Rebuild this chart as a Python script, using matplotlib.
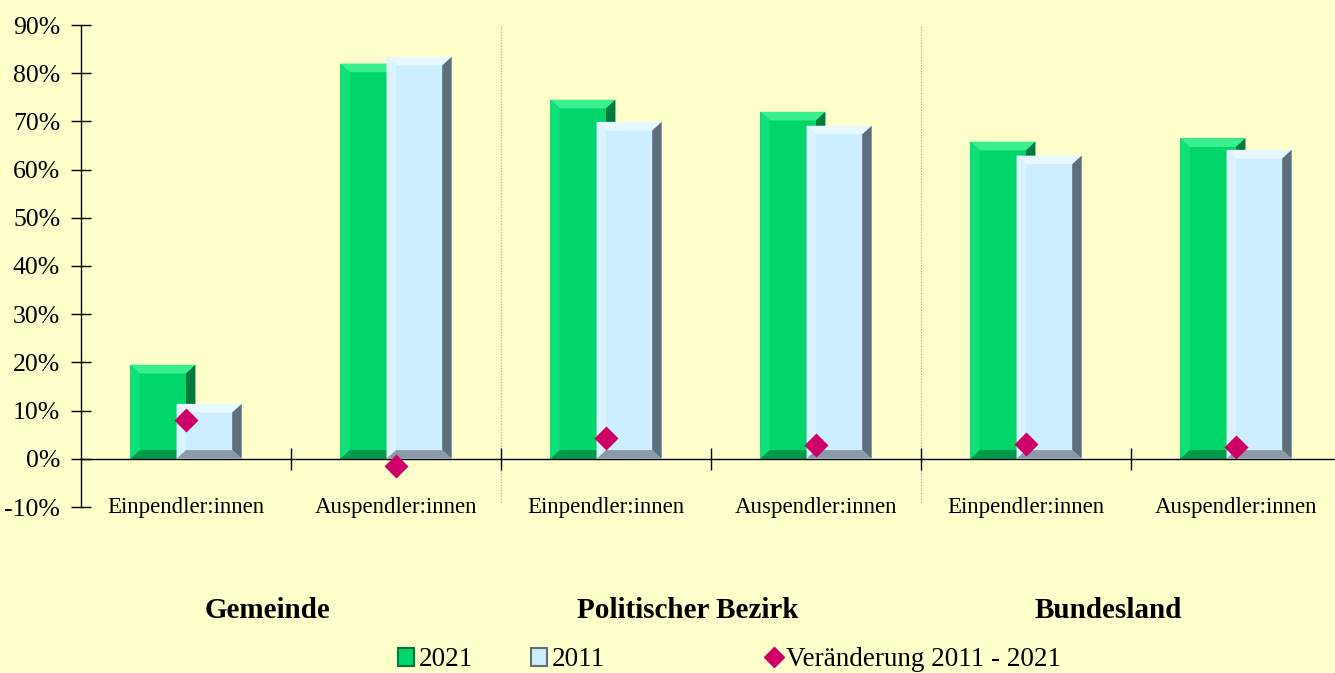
import numpy as np
import matplotlib
matplotlib.use("Agg")
import matplotlib.pyplot as plt
import matplotlib.transforms as mtransforms
from matplotlib.patches import Polygon, Patch
from matplotlib.lines import Line2D
from matplotlib.ticker import PercentFormatter, FixedLocator

plt.rcParams['font.family'] = ['Liberation Serif', 'DejaVu Serif']
plt.rcParams['axes.unicode_minus'] = False

categories = ["Einpendler:innen", "Auspendler:innen"] * 3
groups = ["Gemeinde", "Politischer Bezirk", "Bundesland"]
v2021 = [0.195, 0.820, 0.745, 0.720, 0.658, 0.665]
v2011 = [0.114, 0.834, 0.699, 0.691, 0.629, 0.641]
change = [0.081, -0.014, 0.044, 0.029, 0.030, 0.025]

BG = "#FFFFCC"
GREEN = dict(face="#00D66A", top="#3AF08E", left="#10E078", right="#007A3C", bottom="#009A4C")
BLUE = dict(face="#CCEEFF", top="#E8F8FF", left="#DAF3FF", right="#5E6E7A", bottom="#8A9AA8")


def bevel_bar(ax, x0, width, h, c, z):
    x1 = x0 + width
    y0, y1 = 0.0, h
    dx, dy = 0.045, 0.018
    ax.add_patch(Polygon([(x0, y0), (x1, y0), (x1, y1), (x0, y1)], closed=True,
                         facecolor=c["face"], edgecolor="none", zorder=z))
    sides = [
        ([(x0, y1), (x1, y1), (x1 - dx, y1 - dy), (x0 + dx, y1 - dy)], c["top"]),
        ([(x0, y0), (x0, y1), (x0 + dx, y1 - dy), (x0 + dx, y0 + dy)], c["left"]),
        ([(x1, y1), (x1, y0), (x1 - dx, y0 + dy), (x1 - dx, y1 - dy)], c["right"]),
        ([(x0, y0), (x1, y0), (x1 - dx, y0 + dy), (x0 + dx, y0 + dy)], c["bottom"]),
    ]
    for pts, col in sides:
        ax.add_patch(Polygon(pts, closed=True, facecolor=col, edgecolor="none",
                             zorder=z + 0.1))


fig = plt.figure(figsize=(13.35, 6.73), dpi=100, facecolor=BG)
ax = fig.add_axes([81 / 1335, 1 - 507 / 673, 1254 / 1335, (507 - 25) / 673])
ax.set_facecolor(BG)

n = len(categories)
centers = np.arange(n) + 0.5
w = 0.31
for i, cx in enumerate(centers):
    bevel_bar(ax, cx - 0.11 - w / 2, w, v2021[i], GREEN, 2)
    bevel_bar(ax, cx + 0.11 - w / 2, w, v2011[i], BLUE, 3)

ax.scatter(centers, change, marker="D", s=150, color="#CC0066", zorder=5,
           linewidths=0)

ax.set_xlim(0, 1254 / 210)
ax.set_ylim(-0.1, 0.9)

# separators between groups
for xs in (2, 4):
    ax.plot([xs, xs], [-0.09, 0.9], color="#A0A0A0", lw=0.8, ls=(0, (1, 1.5)),
            zorder=1)

ax.spines[["top", "right"]].set_visible(False)
ax.spines["bottom"].set_position(("data", 0))
ax.spines["bottom"].set_linewidth(1.0)
ax.spines["left"].set_linewidth(1.0)
ax.spines["left"].set_bounds(-0.1, 0.9)

ax.yaxis.set_major_locator(FixedLocator(np.arange(-0.1, 0.91, 0.1)))
ax.yaxis.set_major_formatter(PercentFormatter(1.0, decimals=0))
ax.tick_params(axis="y", direction="inout", length=14, width=1, labelsize=18.5,
               pad=8)
ax.xaxis.set_major_locator(FixedLocator([1, 2, 3, 4, 5]))
ax.tick_params(axis="x", direction="inout", length=16, width=1,
               labelbottom=False)

for cx, lab in zip(centers, categories):
    ax.text(cx, -0.1, lab, ha="center", va="center", fontsize=16.5)

bt = mtransforms.blended_transform_factory(ax.transData, fig.transFigure)
for k, g in enumerate(groups):
    ax.text(2 * k + 1 - 0.11, 1 - 610 / 673, g, ha="center", va="center",
            fontsize=21, fontweight="bold", transform=bt)

# legend entries
leg_items = [
    (Patch(facecolor=GREEN["face"], edgecolor=GREEN["right"], lw=1.5), "2021", 398 / 1335),
    (Patch(facecolor=BLUE["face"], edgecolor=BLUE["right"], lw=1.5), "2011", 531 / 1335),
    (Line2D([], [], marker="D", ls="none", color="#CC0066", markersize=10),
     "Veränderung 2011 - 2021", 766 / 1335),
]
for h, lab, x in leg_items:
    fig.legend([h], [lab], loc="center left", bbox_to_anchor=(x, 1 - 660 / 673),
               frameon=False, fontsize=19.5, handlelength=0.6, handleheight=0.6,
               handletextpad=0.15, borderpad=0, borderaxespad=0)

fig.savefig("out.png", dpi=100, facecolor=BG)
